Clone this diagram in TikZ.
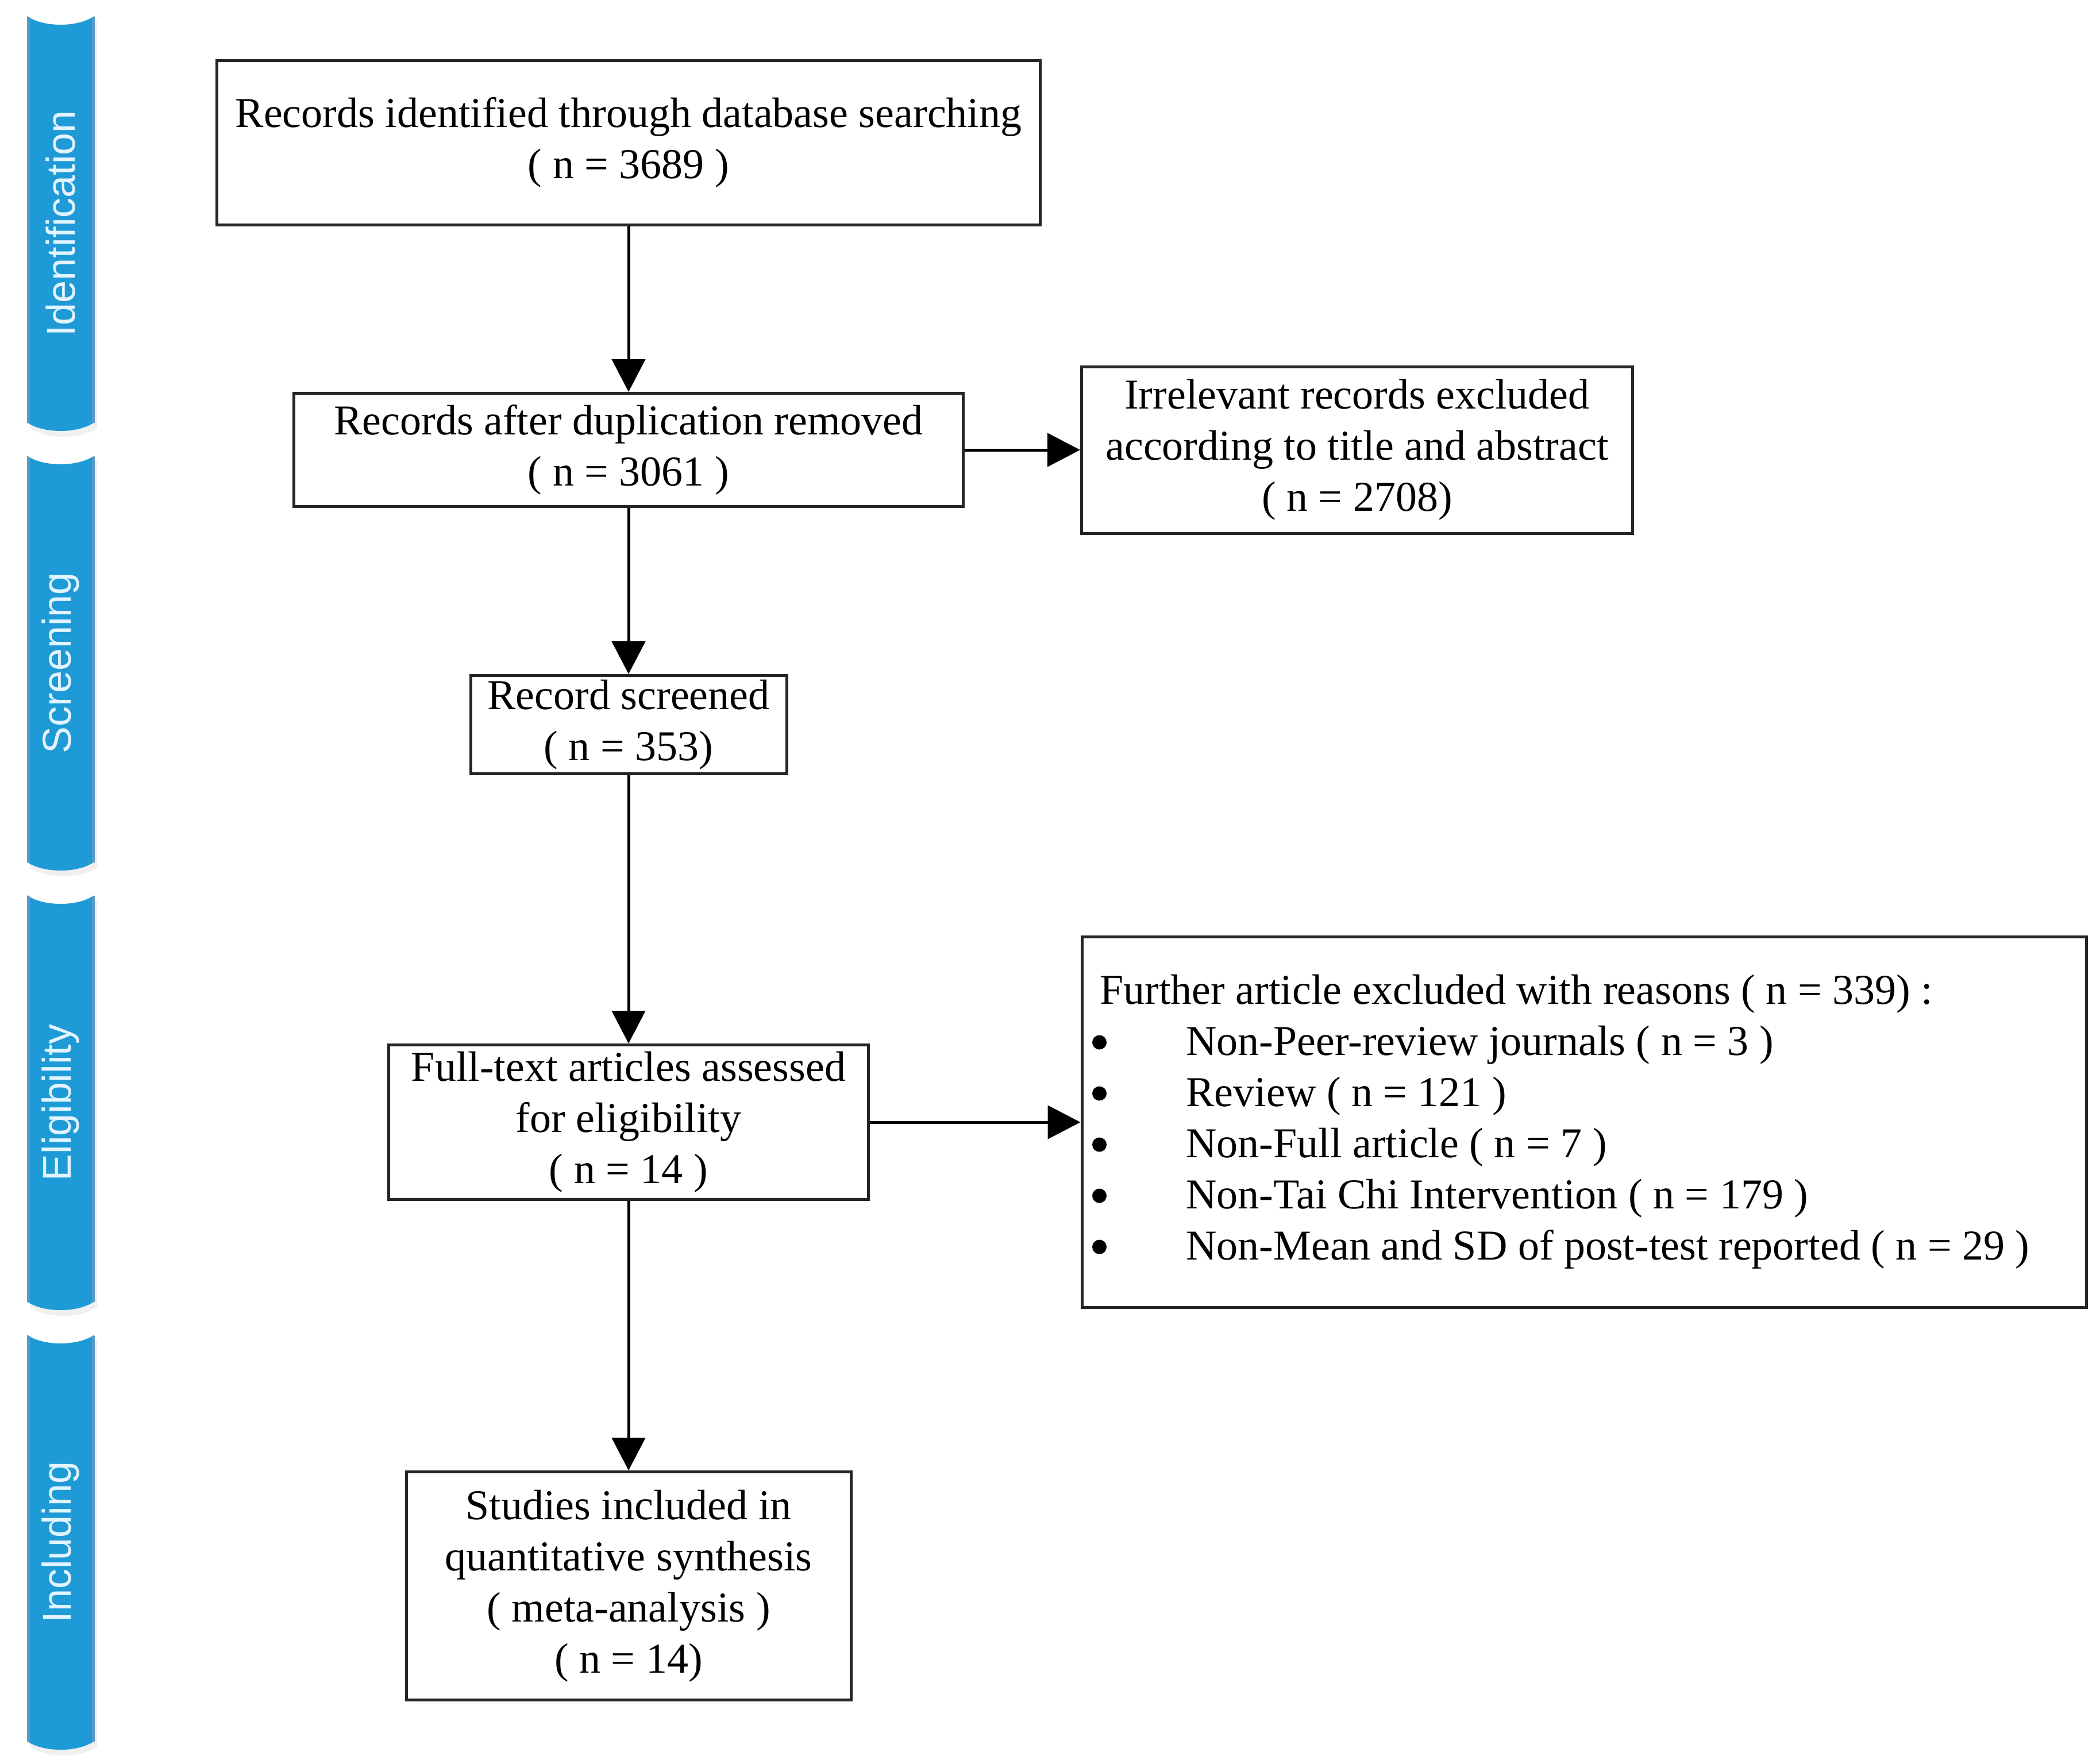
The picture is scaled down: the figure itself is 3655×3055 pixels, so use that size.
\documentclass[tikz,border=0pt]{standalone}
\usepackage{fontspec}
\setmainfont{Liberation Serif}
\newfontfamily\barfont{Liberation Sans}
\usetikzlibrary{arrows.meta}
\definecolor{barblue}{HTML}{1E9AD6}
\definecolor{baredge}{HTML}{5A9AC8}
\definecolor{bartext}{HTML}{E2F4FF}
\newcommand{\phasebar}[4]{% name, top, bottom, label
  \fill[black!6] (52,#2+8) .. controls (80,#2+28) and (141,#2+28) .. (169,#2+8)
     -- (169,#3-5) .. controls (141,#3+15) and (80,#3+15) .. (52,#3-5) -- cycle;
  \fill[barblue] (47,#2) .. controls (75,#2+20) and (136,#2+20) .. (164,#2)
     -- (164,#3-15) .. controls (136,#3+5) and (75,#3+5) .. (47,#3-15) -- cycle;
  \draw[baredge,line width=1pt] (49,#2+2) -- (49,#3-14);
  \draw[baredge,line width=1pt] (162,#2+2) -- (162,#3-14);
  \node[bartext,rotate=90,font=\barfont\fontsize{14}{16}\selectfont] (#1) at (105,{(#2+#3)/2}) {#4};
}
\tikzset{
  box/.style={draw=black!85, line width=1pt, align=center, inner sep=0pt,
    font=\fontsize{14.8}{17.8}\selectfont},
  txtline/.style={anchor=base west, inner sep=0pt, font=\fontsize{14.8}{17.8}\selectfont},
  arr/.style={line width=1pt, -{Triangle[length=11.4pt,width=11.6pt]}},
}
\begin{document}
\begin{tikzpicture}[x=0.2pt,y=-0.2pt]
\useasboundingbox (0,0) rectangle (3655,3055);
\fill[white] (0,0) rectangle (3655,3055);
\phasebar{p1}{28}{750}{Identification}
\phasebar{p2}{793}{1515}{Screening}
\phasebar{p3}{1558}{2280}{Eligibility}
\phasebar{p4}{2323}{3045}{Including}

\node[box, minimum width=286.6pt, minimum height=57.2pt] (b1) at (1094,248)
  {Records identified through database searching\\( n = 3689 )};
\node[box, minimum width=233pt, minimum height=39.4pt] (b2) at (1094,783)
  {Records after duplication removed\\( n = 3061 )};
\node[box, minimum width=191.8pt, minimum height=58pt] (b3) at (2362,783)
  {Irrelevant records excluded\\according to title and abstract\\( n = 2708)};
\node[box, minimum width=110pt, minimum height=34.2pt] (b4) at (1094,1261)
  {Record screened\\( n = 353)};
\node[box, minimum width=167pt, minimum height=53.8pt] (b5) at (1094,1953)
  {Full-text articles assessed\\for eligibility\\( n = 14 )};
\node[box, minimum width=349.6pt, minimum height=129pt] (b6) at (2757,1953) {};
\coordinate (b6o) at ([xshift=6.6pt,yshift=41.2pt]b6.west);
\node[txtline] (l0) at (b6o) {Further article excluded with reasons ( n = 339) :};
\node[txtline] (l1) at ([xshift=30pt,yshift=-17.8pt]l0.base west) {Non-Peer-review journals ( n = 3 )};
\node[txtline] (l2) at ([yshift=-17.8pt]l1.base west) {Review ( n = 121 )};
\node[txtline] (l3) at ([yshift=-17.8pt]l2.base west) {Non-Full article ( n = 7 )};
\node[txtline] (l4) at ([yshift=-17.8pt]l3.base west) {Non-Tai Chi Intervention ( n = 179 )};
\node[txtline] (l5) at ([yshift=-17.8pt]l4.base west) {Non-Mean and SD of post-test reported ( n = 29 )};
\foreach \l in {l1,l2,l3,l4,l5}
  \fill ([xshift=-30pt,yshift=4.4pt]\l.base west) circle (2.5pt);
\node[box, minimum width=154.8pt, minimum height=79.4pt] (b7) at (1094,2760)
  {Studies included in\\quantitative synthesis\\( meta-analysis )\\( n = 14)};

\draw[arr] (b1.south) -- (b2.north);
\draw[arr] (b2.south) -- (b4.north);
\draw[arr] (b4.south) -- (b5.north);
\draw[arr] (b5.south) -- (b7.north);
\draw[arr] (b2.east) -- (b3.west);
\draw[arr] (b5.east) -- (b6.west);
\end{tikzpicture}
\end{document}
